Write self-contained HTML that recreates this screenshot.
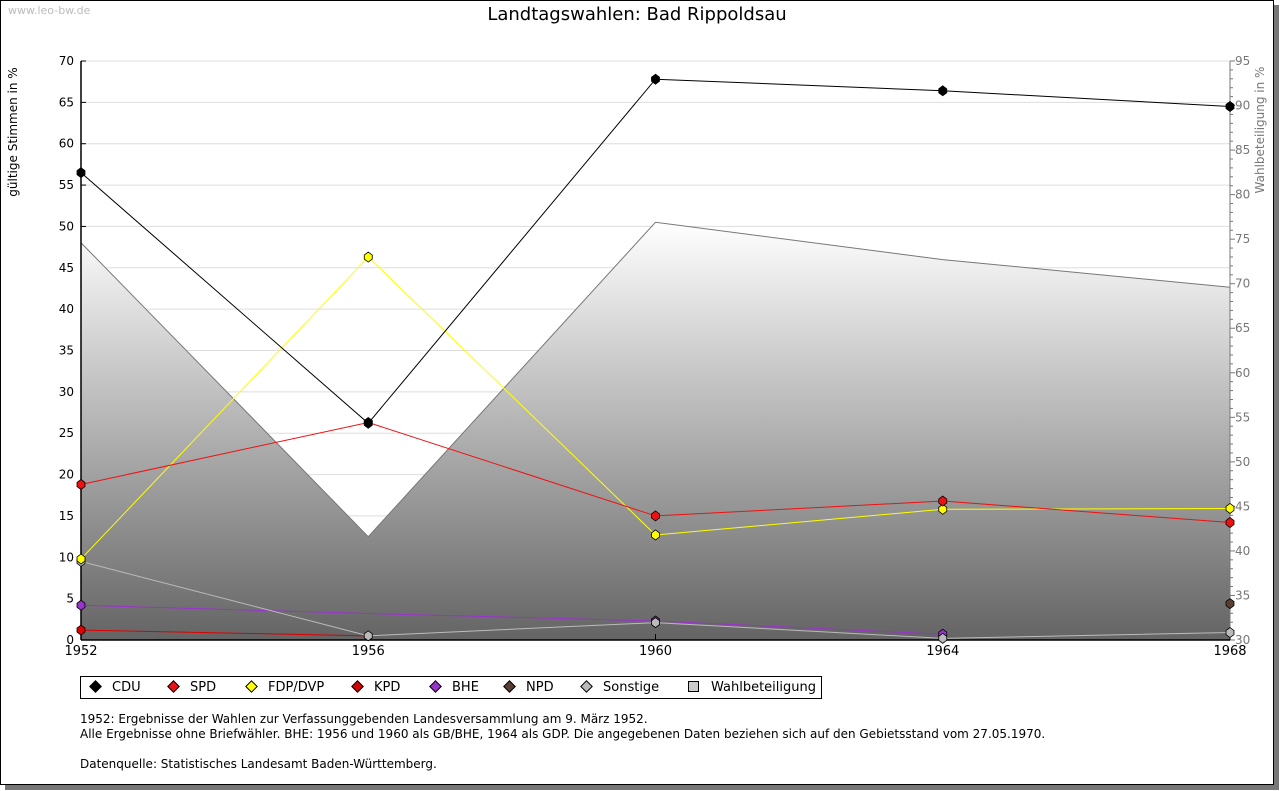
<!DOCTYPE html>
<html><head><meta charset="utf-8"><style>
body{margin:0;background:#fff;font-family:"DejaVu Sans","Liberation Sans",sans-serif;}
#wrap{position:relative;width:1280px;height:791px;overflow:hidden;}
#frame{position:absolute;left:0;top:0;width:1272px;height:783px;border:1px solid #000;background:#fff;box-shadow:5px 5px 0 #777;}
.t{position:absolute;white-space:nowrap;}
</style></head><body>
<div id="wrap">
<div id="frame"></div>
<div class="t" style="left:8px;top:4px;font-size:11px;color:#bbb">www.leo-bw.de</div>
<div class="t" style="left:0;width:1274px;text-align:center;top:4px;font-size:18px;color:#000">Landtagswahlen: Bad Rippoldsau</div>
<svg id="chart" width="1280" height="791" style="position:absolute;left:0;top:0"></svg>
<div class="t" style="left:80px;top:676px;width:740px;height:21px;border:1px solid #000;background:#fff;font-size:13px" id="legend"></div>
<div class="t" style="left:80px;top:712px;font-size:12px;line-height:15px;color:#000">1952: Ergebnisse der Wahlen zur Verfassunggebenden Landesversammlung am 9. März 1952.<br>Alle Ergebnisse ohne Briefwähler. BHE: 1956 und 1960 als GB/BHE, 1964 als GDP. Die angegebenen Daten beziehen sich auf den Gebietsstand vom 27.05.1970.<br><br>Datenquelle: Statistisches Landesamt Baden-Württemberg.</div>
</div>
<script>
const years=[1952,1956,1960,1964,1968];
const leftTicks=[0,5,10,15,20,25,30,35,40,45,50,55,60,65,70];
const rightTicks=[30,35,40,45,50,55,60,65,70,75,80,85,90,95];
const turnout=[74.6,41.6,76.9,72.7,69.6];
const cdu=[56.5,26.2,67.8,66.4,64.5];
const spd=[18.8,26.3,15.0,16.8,14.2];
const fdp=[9.8,46.3,12.7,15.8,15.9];
const kpd=[1.2,0.5,null,null,null];
const bhe=[4.2,3.2,2.3,0.7,null];
const npd=[null,null,null,null,4.4];
const sonst=[9.5,0.5,2.1,0.2,0.9];
const X0=81,X1=1230,YT=61,YB=640;
const xs=y=>X0+(y-1952)/(1968-1952)*(X1-X0);
const yl=v=>YB-v/70*(YB-YT);
const yr=v=>YB-(v-30)/65*(YB-YT);
const svg=document.getElementById('chart');
const NS='http://www.w3.org/2000/svg';
function mk(tag,attrs,parent){const e=document.createElementNS(NS,tag);for(const k in attrs)e.setAttribute(k,attrs[k]);(parent||svg).appendChild(e);return e;}
const defs=mk('defs',{});
const g=mk('linearGradient',{id:'gr',x1:0,y1:0,x2:0,y2:1},defs);
mk('stop',{offset:'0%','stop-color':'#ffffff'},g);
mk('stop',{offset:'100%','stop-color':'#646464'},g);
leftTicks.forEach(v=>{
 const l=mk('line',{x1:X0,x2:X1,y1:yl(v),y2:yl(v),stroke:'#ddd'});
 
 
 mk('line',{x1:X0,x2:X0+5,y1:yl(v),y2:yl(v),stroke:'#000'});
 const t=mk('text',{x:X0-7,y:yl(v)+4,'text-anchor':'end','font-size':12,fill:'#000'});
 t.textContent=v;
 
 
});
let pts=years.map((y,i)=>xs(y)+','+yr(turnout[i])).join(' ');
const area=mk('polygon',{points:X0+','+YB+' '+pts+' '+X1+','+YB,fill:'url(#gr)'});


mk('polyline',{points:pts,fill:'none',stroke:'#777','stroke-width':1});
for(let v=30;v<=95;v++){mk('line',{x1:X1,x2:X1+(v%5?3:5),y1:yr(v),y2:yr(v),stroke:'#777'});}
rightTicks.forEach(v=>{
 const t=mk('text',{x:X1+5,y:yr(v)+4,'font-size':12,fill:'#777'});
 t.textContent=v;
 
 
});
mk('line',{x1:X1,x2:X1,y1:YT,y2:YB,stroke:'#777'});
mk('line',{x1:X0,x2:X0,y1:YT,y2:YB,stroke:'#000','stroke-width':1.5});
mk('line',{x1:X0,x2:X1,y1:YB,y2:YB,stroke:'#000','stroke-width':1.5});
years.forEach(y=>{
 mk('line',{x1:xs(y),x2:xs(y),y1:YB,y2:YB-6,stroke:'#000'});
 const t=mk('text',{x:xs(y),y:YB+15,'text-anchor':'middle','font-size':13});
 t.textContent=y;
 
 
});
const yt=mk('text',{transform:'translate(17,132) rotate(-90)','text-anchor':'middle','font-size':12});
yt.textContent='gültige Stimmen in %';


const yt2=mk('text',{transform:'translate(1264,130) rotate(-90)','text-anchor':'middle','font-size':12,fill:'#777'});
yt2.textContent='Wahlbeteiligung in %';


function series(vals,color,name,hide){
 hide=hide||[];
 const p=[];vals.forEach((v,i)=>{if(v!==null)p.push([xs(years[i]),yl(v),i]);});
 const pl=mk('polyline',{points:p.map(a=>a[0]+','+a[1]).join(' '),fill:'none',stroke:color,'stroke-width':1});
 
 
 p.forEach(a=>{
  if(hide.includes(a[2]))return;
  const d=mk('path',{d:`M${a[0]} ${a[1]-5}L${a[0]+4} ${a[1]-2}L${a[0]+4} ${a[1]+2}L${a[0]} ${a[1]+5}L${a[0]-4} ${a[1]+2}L${a[0]-4} ${a[1]-2}Z`,fill:color,stroke:'#000','stroke-width':0.8});
  
  
 });
}
series(kpd,'#dd0000','kpd',[1]);
series(bhe,'#9933cc','bhe',[1]);
series(sonst,'#bbbbbb','sonstige');
series(npd,'#5a4030','npd');
series(fdp,'#ffff00','fdp');
series(spd,'#ee1111','spd');
series(cdu,'#000000','cdu');
const items=[['CDU','#000'],['SPD','#e11'],['FDP/DVP','#ff0'],['KPD','#d00'],['BHE','#93c'],['NPD','#5a4030'],['Sonstige','#bbb'],['Wahlbeteiligung','sq']];
const lg=document.getElementById('legend');
const lx=[10,88,166,272,350,424,501,607];
items.forEach((it,i)=>{
 const s=document.createElement('span');
 s.className='t';s.style.left=lx[i]+'px';s.style.top='3px';
 const mark=it[1]==='sq'?'<span style="display:inline-block;width:9px;height:9px;background:#ccc;border:1px solid #000;margin-right:12px;vertical-align:-1px"></span>':'<span style="display:inline-block;width:7px;height:7px;background:'+it[1]+';border:1px solid #000;transform:rotate(45deg);margin-right:12px;vertical-align:0px"></span>';
 s.innerHTML=mark+it[0];
 
 
 lg.appendChild(s);
});
</script>
</body></html>
